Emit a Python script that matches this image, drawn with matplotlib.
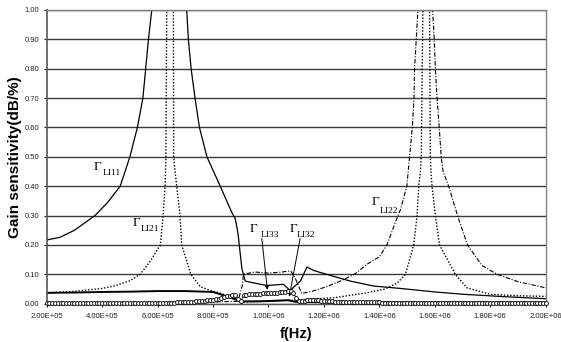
import numpy as np
import matplotlib
matplotlib.use("Agg")
import matplotlib.pyplot as plt
from matplotlib.ticker import FuncFormatter, MultipleLocator

# ---- series: frequency (Hz) / gain sensitivity (dB/%) ----
f_li11 = [2.0e5, 2.48e5, 3.0e5, 3.74e5, 4.2e5, 4.65e5, 5.0e5, 5.27e5, 5.47e5, 5.57e5,
          5.67e5, 5.79e5, 6.0e5, 6.3e5, 6.45e5, 6.6e5, 6.85e5, 7.05e5, 7.11e5, 7.21e5,
          7.35e5, 7.51e5, 7.78e5, 8.26e5, 8.68e5, 8.8e5, 8.9e5, 9.04e5, 9.16e5, 9.46e5,
          9.94e5, 1.054e6, 1.078e6, 1.115e6, 1.139e6, 1.163e6, 1.21e6, 1.295e6, 1.38e6,
          1.476e6, 1.6e6, 1.704e6, 1.85e6, 2.0e6]
g_li11 = [0.217, 0.226, 0.25, 0.30, 0.345, 0.40, 0.50, 0.60, 0.70, 0.80,
          0.90, 1.00, 1.25, 1.6, 1.7, 1.6, 1.25, 1.00, 0.90, 0.80,
          0.70, 0.60, 0.50, 0.40, 0.31, 0.29, 0.24, 0.12, 0.077, 0.071,
          0.062, 0.066, 0.045, 0.077, 0.125, 0.113, 0.10, 0.077, 0.06,
          0.052, 0.04, 0.032, 0.024, 0.017]

f_li21 = [2.0e5, 3.0e5, 4.0e5, 4.5e5, 5.0e5, 5.37e5, 5.7e5, 6.1e5, 6.2e5, 6.27e5,
          6.3e5, 6.33e5, 6.45e5, 6.57e5, 6.58e5, 6.63e5, 6.81e5, 6.87e5, 7.2e5, 7.54e5,
          7.9e5, 8.3e5, 8.7e5, 8.9e5, 9.1e5, 1.0e6, 1.1e6, 1.15e6, 1.235e6, 1.355e6,
          1.42e6, 1.464e6, 1.494e6, 1.524e6, 1.536e6, 1.542e6, 1.548e6, 1.551e6, 1.557e6,
          1.569e6, 1.581e6, 1.584e6, 1.586e6, 1.59e6, 1.602e6, 1.617e6, 1.674e6, 1.716e6,
          1.8e6, 1.9e6, 2.0e6]
g_li21 = [0.037, 0.042, 0.052, 0.062, 0.078, 0.10, 0.14, 0.20, 0.30, 0.40,
          0.50, 1.00, 2.50, 1.00, 0.50, 0.45, 0.30, 0.20, 0.10, 0.058,
          0.045, 0.035, 0.02, 0.012, 0.006, 0.008, 0.012, 0.016, 0.02, 0.037,
          0.05, 0.07, 0.10, 0.20, 0.30, 0.40, 0.45, 0.50, 1.00,
          2.50, 1.00, 0.50, 0.45, 0.40, 0.30, 0.20, 0.10, 0.054,
          0.032, 0.027, 0.025]

f_li22 = [2.0e5, 4.0e5, 6.0e5, 8.0e5, 8.9e5, 9.05e5, 9.1e5, 9.5e5, 1.0e6, 1.05e6,
          1.08e6, 1.095e6, 1.12e6, 1.16e6, 1.21e6, 1.259e6, 1.31e6, 1.355e6, 1.40e6,
          1.427e6, 1.459e6, 1.476e6, 1.499e6, 1.509e6, 1.519e6, 1.525e6, 1.527e6,
          1.533e6, 1.539e6, 1.565e6, 1.592e6, 1.598e6, 1.602e6, 1.608e6, 1.616e6,
          1.623e6, 1.63e6, 1.65e6, 1.682e6, 1.718e6, 1.77e6, 1.825e6, 1.9e6, 2.0e6]
g_li22 = [0.003, 0.003, 0.004, 0.006, 0.008, 0.06, 0.10, 0.108, 0.104, 0.108,
          0.112, 0.09, 0.035, 0.043, 0.058, 0.077, 0.10, 0.134, 0.16,
          0.20, 0.28, 0.32, 0.40, 0.50, 0.60, 0.70, 0.80,
          0.90, 1.00, 1.30, 1.00, 0.90, 0.80, 0.70, 0.60,
          0.50, 0.45, 0.40, 0.30, 0.20, 0.13, 0.10, 0.075, 0.054]

f_li32 = [2.0e5, 3.0e5, 4.0e5, 5.0e5, 6.0e5, 7.0e5, 8.0e5, 8.5e5, 9.0e5, 9.5e5,
          1.0e6, 1.07e6, 1.1e6, 1.2e6, 1.5e6, 2.0e6]
g_li32 = [0.037, 0.038, 0.040, 0.041, 0.043, 0.043, 0.040, 0.025, 0.008, 0.008,
          0.009, 0.012, 0.006, 0.005, 0.004, 0.004]

# Gamma_LI33 sampled every 10 kHz from 0.2 MHz to 2.0 MHz
f_li33 = np.arange(2.0e5, 2.0e6 + 1.0, 1.0e4)
g_li33 = ([0.002] * 41 +
          [0.003, 0.003, 0.003, 0.004, 0.004, 0.004, 0.005, 0.005, 0.005, 0.006,
           0.006, 0.007, 0.007, 0.008, 0.009, 0.009, 0.010, 0.011, 0.012, 0.013,
           0.015, 0.017, 0.020, 0.023, 0.025, 0.027, 0.029, 0.030, 0.015, 0.008,
           0.028, 0.030, 0.032, 0.033, 0.033, 0.034, 0.034, 0.035, 0.035, 0.036,
           0.036, 0.037, 0.038, 0.039, 0.040, 0.041, 0.042, 0.043, 0.036, 0.020,
           0.009, 0.008, 0.010, 0.012, 0.013, 0.013, 0.012, 0.011, 0.010, 0.009,
           0.009, 0.008, 0.008, 0.007, 0.007, 0.007, 0.006, 0.006, 0.006, 0.006] +
          [0.005] * 10 + [0.004] * 10 + [0.003] * 50)

x_ticks = [2.0e5, 4.0e5, 6.0e5, 8.0e5, 1.0e6, 1.2e6, 1.4e6, 1.6e6, 1.8e6, 2.0e6]

plt.rcParams['font.family'] = ['Liberation Sans', 'DejaVu Sans']

fig = plt.figure(figsize=(5.61, 3.42), dpi=100)
ax = fig.add_axes([46.7 / 561, 1 - 303.7 / 342, 499 / 561, 293.7 / 342])

# horizontal grid
ax.set_axisbelow(True)
ax.yaxis.grid(True, color='#3a3a3a', linewidth=1.0)

ax.plot(f_li11, g_li11, color='black', lw=0.9)
ax.plot(f_li21, g_li21, color='black', lw=1.0, ls=(0, (1.0, 1.3)))
ax.plot(f_li22, g_li22, color='black', lw=0.8, ls=(0, (4.0, 1.5, 1.0, 1.5)))
ax.plot(f_li32, g_li32, color='black', lw=1.4)
ax.plot(f_li33, g_li33, color='black', lw=0.6, marker='o', markersize=2.8,
        markerfacecolor='white', markeredgecolor='black', markeredgewidth=0.6,
        clip_on=False, zorder=4)

ax.set_xlim(2.0e5, 2.0e6)
ax.set_ylim(0.0, 1.0)
ax.set_xticks(x_ticks)
ax.yaxis.set_major_locator(MultipleLocator(0.1))


def sci_fmt(v, _pos):
    m, e = f"{v:.2E}".split("E")
    return f"{m}E{e[0]}{int(e[1:]):02d}"


ax.xaxis.set_major_formatter(FuncFormatter(sci_fmt))
ax.yaxis.set_major_formatter(FuncFormatter(lambda v, _p: f"{v:.2f}"))
ax.tick_params(axis='both', labelsize=5.5, colors='#222222', length=2.5, width=0.8,
               direction='out')
ax.tick_params(axis='x', pad=4)
ax.tick_params(axis='y', pad=3)

for side in ('top', 'right'):
    ax.spines[side].set_color('#808080')
    ax.spines[side].set_linewidth(1.0)
ax.spines['left'].set_color('#555555')
ax.spines['bottom'].set_color('#555555')
ax.spines['left'].set_linewidth(1.2)
ax.spines['bottom'].set_linewidth(1.0)

ax.set_xlabel('f(Hz)', fontsize=10.5, fontweight='bold', labelpad=5)
ax.set_ylabel('Gain sensitivity(dB/%)', fontsize=11, fontweight='bold', labelpad=2)

# curve labels: Gamma with subscript
serif = ['Liberation Serif', 'DejaVu Serif']
labels = [
    ((3.706e5, 0.455), (4.031e5, 0.438), 'LI11'),
    ((5.113e5, 0.265), (5.402e5, 0.249), 'LI21'),
    ((9.33e5, 0.244), (9.72e5, 0.227), 'LI33'),
    ((1.075e6, 0.244), (1.103e6, 0.227), 'LI32'),
    ((1.372e6, 0.336), (1.402e6, 0.310), 'LI22'),
]
for (gx, gy), (sx, sy), sub in labels:
    ax.text(gx, gy, '\u0393', family=serif, fontsize=9.5, ha='left', va='baseline')
    ax.text(sx, sy, sub, family=serif, fontsize=6.8, ha='left', va='baseline')

arrow_style = dict(arrowstyle='-|>', color='black', lw=0.7,
                   mutation_scale=6, shrinkA=0, shrinkB=0)
ax.annotate('', xy=(9.96e5, 0.047), xytext=(9.76e5, 0.222), arrowprops=arrow_style)
ax.annotate('', xy=(1.075e6, 0.024), xytext=(1.114e6, 0.222), arrowprops=arrow_style)

fig.savefig('out.png', dpi=100)
